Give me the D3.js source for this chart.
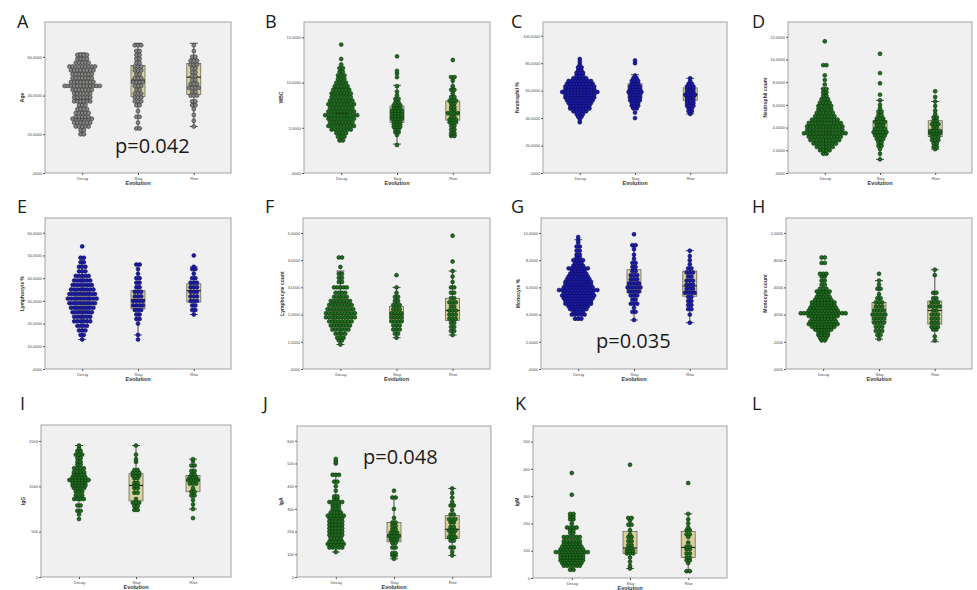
<!DOCTYPE html>
<html>
<head>
<meta charset="utf-8">
<script src="https://cdn.jsdelivr.net/npm/d3@7"></script>
<style>
  body { margin: 0; background: #fff; }
  text { font-family: 'Liberation Sans', Arial, sans-serif; }
  .big { font-family: 'Open Sans', sans-serif; fill: #1a1a1a; }
</style>
</head>
<body>
<script>
const groups = ['Decay', 'Stay', 'Rise'];

// rows of the dot plots: [value, number of dots side by side]
const ageDecay = [[20,2],[22,2],[24,5],[26,6],[28,7],[29,5],[31,5],[33,4],[35,3],[37,6],[39,6],[41,6],[43,7],[45,12],[47,8],[49,7],[51,7],[53,8],[55,9],[57,5],[59,4],[61,4]];
const ageStay = [[23,2],[26,1],[29,2],[32,1],[35,2],[37,3],[39,3],[41,3],[43,2],[45,3],[47,4],[49,3],[51,2],[53,3],[55,3],[57,2],[59,2],[61,2],[63,2],[66,3]];
const ageRise = [[24,1],[27,1],[30,1],[33,1],[35,2],[37,2],[40,3],[42,2],[44,4],[46,3],[48,2],[50,2],[52,2],[54,2],[56,3],[58,3],[60,2],[63,1],[66,1]];

const wbcDecay = [[3.6,2],[4.0,3],[4.4,4],[4.8,7],[5.2,9],[5.6,8],[6.0,9],[6.4,11],[6.8,9],[7.2,8],[7.6,9],[8.0,8],[8.4,7],[8.8,7],[9.2,6],[9.6,5],[10.0,4],[10.4,3],[10.8,3],[11.2,2],[11.6,2],[12.0,1],[12.6,1],[14.2,1]];
const wbcStay = [[3.1,1],[4.2,1],[4.5,2],[4.8,2],[5.1,3],[5.4,3],[5.7,3],[6.0,4],[6.3,4],[6.6,4],[6.9,4],[7.2,3],[7.5,3],[7.8,2],[8.2,2],[8.6,1],[9.0,1],[9.6,1],[10.6,1],[11.0,1],[11.3,1],[12.9,1]];
const wbcRise = [[4.1,2],[4.4,2],[4.8,2],[5.2,2],[5.6,3],[5.9,3],[6.2,2],[6.6,4],[7.0,2],[7.3,2],[7.7,2],[8.0,3],[8.4,2],[8.8,1],[9.2,2],[9.6,1],[10.2,1],[10.6,2],[12.5,1]];

const neuPctDecay = [[37,1],[39,1],[41,2],[43,3],[45,5],[47,7],[49,7],[51,8],[53,9],[55,10],[57,10],[59,12],[61,10],[63,10],[65,9],[67,8],[69,5],[71,3],[73,3],[75,2],[77,2],[79,1],[81,1],[83,1]];
const neuPctStay = [[40,1],[44,1],[47,2],[49,3],[51,3],[53,4],[55,4],[57,4],[59,5],[61,4],[63,4],[65,3],[67,3],[69,2],[71,1],[80,1],[82,1]];
const neuPctRise = [[43,1],[45,2],[47,2],[49,3],[51,3],[53,3],[55,3],[57,4],[59,3],[61,3],[63,3],[65,2],[67,1],[69,1]];

const neuCntDecay = [[1.7,2],[2.0,4],[2.3,6],[2.6,8],[2.9,10],[3.2,11],[3.5,14],[3.8,12],[4.1,12],[4.4,11],[4.7,9],[5.0,7],[5.3,6],[5.6,5],[5.9,5],[6.2,4],[6.5,3],[6.8,2],[7.1,2],[7.4,2],[7.8,1],[8.2,1],[8.6,1],[9.5,2],[11.6,1]];
const neuCntStay = [[1.2,1],[1.7,1],[2.1,1],[2.4,2],[2.7,2],[3.0,3],[3.3,4],[3.6,5],[3.9,4],[4.2,3],[4.5,4],[4.8,3],[5.1,2],[5.4,2],[5.7,1],[6.0,1],[6.4,1],[6.9,1],[7.9,1],[8.8,1],[10.5,1]];
const neuCntRise = [[2.1,1],[2.3,2],[2.6,2],[2.9,3],[3.2,3],[3.5,4],[3.7,4],[4.0,2],[4.3,3],[4.6,2],[4.9,2],[5.2,1],[5.5,1],[5.9,1],[6.3,1],[6.7,1],[7.2,1]];

const lymPctDecay = [[13,1],[15,2],[17,3],[19,4],[21,6],[23,6],[25,7],[27,8],[29,9],[31,10],[33,9],[35,8],[37,7],[39,6],[41,5],[43,3],[45,3],[47,2],[49,2],[54,1]];
const lymPctStay = [[13,1],[15,1],[20,1],[22,2],[24,2],[26,3],[28,4],[30,4],[32,3],[34,3],[36,2],[38,2],[40,2],[42,1],[44,1],[46,2]];
const lymPctRise = [[24,1],[26,2],[28,2],[30,3],[32,3],[34,3],[36,3],[38,3],[40,2],[42,1],[44,2],[45,1],[50,1]];

const lymCntDecay = [[0.9,1],[1.05,2],[1.15,3],[1.3,4],[1.45,6],[1.6,7],[1.75,8],[1.9,10],[2.05,10],[2.2,9],[2.35,8],[2.5,7],[2.65,5],[2.8,4],[3.0,5],[3.2,2],[3.35,2],[3.5,2],[3.75,1],[4.1,2]];
const lymCntStay = [[1.15,1],[1.3,2],[1.45,3],[1.6,3],[1.75,4],[1.9,4],[2.05,4],[2.2,3],[2.35,3],[2.5,2],[2.65,2],[2.8,1],[3.0,1],[3.45,1]];
const lymCntRise = [[1.25,1],[1.4,2],[1.55,2],[1.7,2],[1.85,3],[2.0,3],[2.15,3],[2.3,2],[2.45,3],[2.6,2],[2.8,2],[3.0,2],[3.2,1],[3.4,1],[3.6,1],[3.95,1],[4.9,1]];

const monPctDecay = [[3.7,3],[4.0,5],[4.2,4],[4.4,6],[4.6,7],[4.8,9],[5.0,9],[5.2,10],[5.4,11],[5.6,10],[5.8,13],[6.0,10],[6.2,9],[6.4,9],[6.6,8],[6.8,7],[7.0,6],[7.2,5],[7.4,7],[7.6,4],[7.8,3],[8.0,4],[8.2,2],[8.4,2],[8.7,2],[9.0,2],[9.3,1],[9.5,1],[9.7,1]];
const monPctStay = [[3.6,1],[4.2,2],[4.5,1],[4.8,3],[5.1,2],[5.4,3],[5.7,4],[6.0,5],[6.3,4],[6.6,3],[6.9,3],[7.2,2],[7.5,2],[7.8,2],[8.1,1],[8.4,1],[8.8,1],[9.1,2],[9.9,1]];
const monPctRise = [[3.4,1],[4.0,1],[4.4,2],[4.7,2],[5.0,2],[5.3,2],[5.6,4],[5.9,3],[6.2,3],[6.5,3],[6.8,2],[7.1,3],[7.4,2],[7.7,1],[8.0,1],[8.3,1],[8.7,1]];

const monCntDecay = [[.21,2],[.23,3],[.25,4],[.27,4],[.29,6],[.31,8],[.33,10],[.35,9],[.37,8],[.39,10],[.41,15],[.43,10],[.45,9],[.47,8],[.49,8],[.51,6],[.53,5],[.55,4],[.57,5],[.59,3],[.62,2],[.65,2],[.68,2],[.70,3],[.78,2],[.82,2]];
const monCntStay = [[.22,1],[.25,2],[.28,3],[.31,3],[.34,4],[.37,4],[.40,5],[.43,4],[.46,3],[.49,3],[.52,2],[.55,1],[.59,2],[.62,1],[.65,1],[.70,1]];
const monCntRise = [[.21,1],[.24,1],[.29,2],[.31,3],[.34,3],[.37,3],[.40,3],[.43,2],[.46,4],[.49,3],[.52,2],[.56,2],[.69,1],[.73,1]];

const iggDecay = [[640,1],[690,1],[730,2],[790,2],[860,4],[900,3],[940,3],[980,4],[1010,5],[1040,5],[1070,7],[1100,5],[1130,4],[1160,4],[1200,4],[1240,2],[1270,2],[1310,2],[1350,3],[1390,2],[1420,1],[1450,1]];
const iggStay = [[740,2],[780,2],[820,3],[860,1],[930,2],[980,2],[1010,2],[1040,2],[1090,2],[1120,3],[1150,3],[1180,2],[1270,1],[1300,1],[1350,1],[1450,1]];
const iggRise = [[650,1],[750,1],[800,1],[850,1],[900,2],[940,2],[980,1],[1030,3],[1070,4],[1100,3],[1130,2],[1170,2],[1230,2],[1280,1],[1300,1]];

const igaDecay = [[110,1],[130,5],[145,6],[155,5],[170,4],[185,5],[200,5],[215,5],[230,5],[245,5],[260,5],[270,6],[285,4],[300,3],[315,3],[330,5],[345,2],[355,2],[380,1],[400,1],[420,2],[450,3],[500,1],[510,1],[520,1]];
const igaStay = [[80,1],[95,2],[105,2],[130,2],[150,2],[165,3],[180,4],[195,3],[210,2],[225,2],[240,2],[260,1],[300,1],[350,2],[380,1]];
const igaRise = [[95,1],[110,1],[130,2],[160,2],[175,3],[190,2],[205,3],[220,2],[240,2],[255,3],[275,2],[295,1],[315,2],[330,1],[350,1],[370,1],[390,1]];

const igmDecay = [[30,2],[45,6],[55,7],[65,8],[75,8],[85,8],[95,11],[105,8],[115,7],[125,6],[135,6],[150,6],[165,2],[175,2],[185,4],[200,1],[215,2],[225,2],[235,2],[305,1],[385,1]];
const igmStay = [[35,1],[45,1],[60,1],[75,1],[90,3],[100,3],[110,2],[120,2],[135,2],[150,2],[160,1],[175,1],[195,2],[210,1],[220,2],[415,1]];
const igmRise = [[25,2],[55,1],[65,2],[75,2],[90,2],[105,2],[115,2],[130,1],[150,1],[160,2],[175,2],[185,1],[200,1],[215,1],[235,1],[348,1]];

// box stats per group: [whisker low, q1, median, q3, whisker high]
const ageBox = [[20,38,45,53,62],[23,39.5,48,55.5,67],[24,40.5,49.5,56.5,67]];
const wbcBox = [[3.6,5.5,6.6,7.9,11.6],[3.2,5.6,6.2,7.4,9.7],[4.2,5.85,6.7,7.95,10.7]];
const neuPctBox = [[41,53,59,64.5,77],[47,54.7,60.5,65,71.5],[43,53,57,62,69]];
const neuCntBox = [[1.7,3.1,3.8,4.7,7.4],[1.2,3.4,3.65,4.6,6.4],[2.1,3.2,3.65,4.6,6.3]];
const lymPctBox = [[13,26,31,35,49],[15,26.5,30.5,34.5,46],[24,29.5,34.5,37.5,45]];
const lymCntBox = [[0.9,1.65,2.05,2.45,3.6],[1.15,1.72,2.0,2.3,3.0],[1.25,1.78,2.15,2.6,3.6]];
const monPctBox = [[3.6,5.2,5.9,6.8,9.5],[3.6,5.6,6.2,7.3,9.1],[3.4,5.35,6.1,7.2,8.7]];
const monCntBox = [[.21,.34,.42,.50,.70],[.22,.34,.40,.49,.65],[.20,.33,.43,.50,.73]];
const iggBox = [[730,980,1070,1160,1450],[740,840,1010,1140,1450],[750,940,1065,1120,1300]];
const igaBox = [[110,150,225,285,455],[80,155,185,240,350],[95,170,210,270,390]];
const igmBox = [[30,60,95,150,235],[35,90,110,170,220],[25,75,112,170,235]];

const letters = ['A','B','C','D','E','F','G','H','I','J','K','L'];
const titles = ['Age','WBC','Neutrophil %','Neutrophil count','Lymphocyte %','Lymphocyte count','Monocyte %','Monocyte count','IgG','IgA','IgM'];
const yTops = [78, 16.7, 110, 13.3, 66.5, 5.55, 11.1, 1.11, 1677, 665, 557];
const yTicks = [[0,20,40,60],[0,5,10,15],[0,20,40,60,80,100],[0,2,4,6,8,10,12],[0,10,20,30,40,50,60],[0,1,2,3,4,5],[0,2,4,6,8,10],[0,.2,.4,.6,.8,1],[0,500,1000,1500],[0,100,200,300,400,500,600],[0,100,200,300,400,500]];
const pTexts = [['A','p=0.042'],['G','p=0.035'],['J','p=0.048']];

const rows = [
  [ageDecay, ageStay, ageRise], [wbcDecay, wbcStay, wbcRise],
  [neuPctDecay, neuPctStay, neuPctRise], [neuCntDecay, neuCntStay, neuCntRise],
  [lymPctDecay, lymPctStay, lymPctRise], [lymCntDecay, lymCntStay, lymCntRise],
  [monPctDecay, monPctStay, monPctRise], [monCntDecay, monCntStay, monCntRise],
  [iggDecay, iggStay, iggRise], [igaDecay, igaStay, igaRise], [igmDecay, igmStay, igmRise]
];
const boxes = [ageBox, wbcBox, neuPctBox, neuCntBox, lymPctBox, lymCntBox, monPctBox, monCntBox, iggBox, igaBox, igmBox];

// layout
const frames = [
  [45,22,231,173],[304,22,490,173],[543,22,727,173],[788,22,972,173],
  [45,218,231,369],[303,218,490,369],[541,218,727,369],[786,218,972,369],
  [41,425,231,577],[297,426,491,577],[533,426,727,578]
];
const letterPos = [[17,28],[265,28],[511,28],[752,28],[17,213],[265,213],[511,213],[752,213],[20,410],[263,410],[515,410],[752,410]];
const pPos = { A: [115,153], G: [596,348], J: [363,464] };
const palette = {
  gray: ['#858585', '#2e2e2e'],
  green: ['#1f6b1f', '#0a330a'],
  blue: ['#1c1ca8', '#0a0a55']
};
const dotColor = ['gray','green','blue','green','blue','green','blue','green','green','green','green'];

// SPSS style numbers: 4 decimals, decimal comma, no leading zero
const spssFmt = v => {
  let s = d3.format('.4f')(v).replace('.', ',');
  return s.startsWith('0,') ? s.slice(1) : s;
};

const svg = d3.select('body').append('svg')
  .attr('width', 977).attr('height', 590);

svg.selectAll('text.letter')
  .data(letters)
  .enter()
  .append('text')
  .attr('class', 'big')
  .attr('x', (d, i) => letterPos[i][0])
  .attr('y', (d, i) => letterPos[i][1])
  .style('font-size', '18px')
  .text(d => d);

titles.forEach((title, p) => {
  const [x0, y0, x1, y1] = frames[p];
  const g = svg.append('g');
  const y = d3.scaleLinear().domain([0, yTops[p]]).range([y1, y0]);
  const x = d3.scalePoint().domain(groups).range([x0 + 0.2 * (x1 - x0), x0 + 0.8 * (x1 - x0)]);
  const [fill, stroke] = palette[dotColor[p]];

  g.append('rect')
    .attr('x', x0).attr('y', y0)
    .attr('width', x1 - x0).attr('height', y1 - y0)
    .attr('fill', '#f0f0f0')
    .attr('stroke', '#a3a3a3')
    .attr('stroke-width', 1);

  // axes
  const ya = g.append('g')
    .attr('transform', 'translate(' + x0 + ',0)')
    .call(d3.axisLeft(y).tickValues(yTicks[p]).tickSize(2).tickPadding(1)
      .tickFormat(p < 8 ? spssFmt : d3.format('d')));
  const xa = g.append('g')
    .attr('transform', 'translate(0,' + y1 + ')')
    .call(d3.axisBottom(x).tickSize(2).tickPadding(2));
  [ya, xa].forEach(a => {
    a.select('.domain').remove();
    a.selectAll('line').attr('stroke', '#555');
    a.selectAll('text').style('font-size', '4px').attr('fill', '#444');
  });
  const yaw = ya.node().getBBox().width;

  g.append('text')
    .attr('transform', 'translate(' + (x0 - yaw - 4) + ',' + ((y0 + y1) / 2) + ') rotate(-90)')
    .attr('text-anchor', 'middle')
    .style('font-size', '5px')
    .style('font-weight', 'bold')
    .attr('fill', '#333')
    .text(title);

  g.append('text')
    .attr('x', (x0 + x1) / 2)
    .attr('y', y1 + 12)
    .attr('text-anchor', 'middle')
    .style('font-size', '5.5px')
    .style('font-weight', 'bold')
    .attr('fill', '#333')
    .text('Evolution');

  // box plots
  const bw = 14, cap = 8;
  groups.forEach((grp, gi) => {
    const [lo, q1, med, q3, hi] = boxes[p][gi];
    const cx = x(grp);
    const bg = g.append('g');
    bg.append('line').attr('x1', cx).attr('x2', cx).attr('y1', y(hi)).attr('y2', y(q3));
    bg.append('line').attr('x1', cx).attr('x2', cx).attr('y1', y(q1)).attr('y2', y(lo));
    bg.append('line').attr('x1', cx - cap / 2).attr('x2', cx + cap / 2).attr('y1', y(hi)).attr('y2', y(hi));
    bg.append('line').attr('x1', cx - cap / 2).attr('x2', cx + cap / 2).attr('y1', y(lo)).attr('y2', y(lo));
    bg.selectAll('line').attr('stroke', '#222').attr('stroke-width', 0.8);
    bg.append('rect')
      .attr('x', cx - bw / 2).attr('y', y(q3))
      .attr('width', bw).attr('height', y(q1) - y(q3))
      .attr('fill', '#d9d19c').attr('stroke', '#555').attr('stroke-width', 0.7);
    bg.append('line')
      .attr('x1', cx - bw / 2).attr('x2', cx + bw / 2)
      .attr('y1', y(med)).attr('y2', y(med))
      .attr('stroke', '#222').attr('stroke-width', 1.2);
  });

  // dot plots
  const sp = 3.2;
  groups.forEach((grp, gi) => {
    const dots = rows[p][gi].flatMap(([v, n]) => d3.range(n).map(i => ({ v: v, off: i - (n - 1) / 2 })));
    g.append('g')
      .selectAll('circle')
      .data(dots)
      .enter()
      .append('circle')
      .attr('cx', d => x(grp) + d.off * sp)
      .attr('cy', d => y(d.v))
      .attr('r', 1.95)
      .attr('fill', fill)
      .attr('stroke', stroke)
      .attr('stroke-width', 0.6);
  });
});

svg.selectAll('text.pval')
  .data(pTexts)
  .enter()
  .append('text')
  .attr('class', 'big')
  .attr('x', d => pPos[d[0]][0])
  .attr('y', d => pPos[d[0]][1])
  .style('font-size', '20px')
  .text(d => d[1]);
</script>
</body>
</html>
